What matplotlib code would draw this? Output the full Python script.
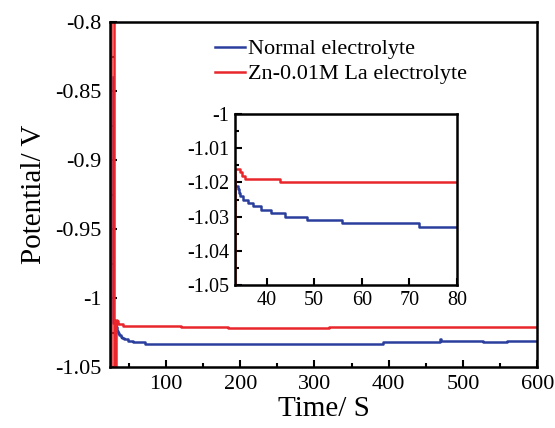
import matplotlib
matplotlib.use("Agg")
import matplotlib.pyplot as plt
from matplotlib.ticker import MultipleLocator

plt.rcParams["font.family"] = ["Liberation Serif", "DejaVu Serif"]
plt.rcParams["axes.unicode_minus"] = False

# open circuit potential vs time
t_normal = [28.5, 29.0, 33.3, 34.0, 34.2, 34.4, 35.1, 36.1, 37.2, 38.9, 41.0,
            43.8, 48.4, 55.8, 72.0, 392, 469, 471, 527, 559, 600]
v_normal = [-0.84, -1.018, -1.021, -1.022, -1.023, -1.024, -1.025, -1.026,
            -1.027, -1.028, -1.029, -1.030, -1.031, -1.032, -1.033, -1.032,
            -1.030, -1.031, -1.032, -1.031, -1.031]

t_la = [25.0, 26.0, 30.0, 33.4, 34.3, 34.8, 35.4, 42.8, 120, 183, 320, 600]
v_la = [-1.06, -0.79, -1.06, -1.016, -1.017, -1.018, -1.019, -1.020, -1.021,
        -1.022, -1.021, -1.021]

labels = ["Normal electrolyte", "Zn-0.01M La electrolyte"]
colors = ["#2a3f9d", "#e8262b"]


def style_axes(ax, size, pad):
    for sp in ax.spines.values():
        sp.set_linewidth(1.8)
    ax.tick_params(which="both", direction="in", labelsize=size, width=1.5, pad=pad)
    ax.tick_params(which="major", length=5)
    ax.tick_params(which="minor", length=3)


fig = plt.figure(figsize=(5.55, 4.28), dpi=100)
ax = fig.add_axes([0.198, 0.1425, 0.77, 0.806])
ax.plot(t_normal, v_normal, drawstyle="steps-post", color=colors[0], lw=1.8, label=labels[0])
ax.plot(t_la, v_la, drawstyle="steps-post", color=colors[1], lw=1.8, label=labels[1])
ax.set_xlim(24.5, 600)
ax.set_ylim(-1.05, -0.8)
ax.xaxis.set_major_locator(MultipleLocator(100))
ax.xaxis.set_minor_locator(MultipleLocator(50))
ax.yaxis.set_minor_locator(MultipleLocator(0.025))
ax.set_yticks([-0.8, -0.85, -0.9, -0.95, -1.0, -1.05])
ax.set_yticklabels(["-0.8", "-0.85", "-0.9", "-0.95", "-1", "-1.05"])
style_axes(ax, 16, 6)
ax.set_xlabel("Time/ S", fontsize=21, labelpad=1)
ax.set_ylabel("Potential/ V", fontsize=21, labelpad=6)
ax.legend(loc="upper left", bbox_to_anchor=(0.215, 0.99), frameon=False, fontsize=16,
          handlelength=1.35, handletextpad=0.15, labelspacing=0.2, borderaxespad=0.2)

ins = fig.add_axes([0.423, 0.334, 0.4, 0.3995])
ins.plot(t_normal, v_normal, drawstyle="steps-post", color=colors[0], lw=1.8)
ins.plot(t_la, v_la, drawstyle="steps-post", color=colors[1], lw=1.8)
ins.set_xlim(33.3, 80)
ins.set_ylim(-1.05, -1.0)
ins.xaxis.set_major_locator(MultipleLocator(10))
ins.set_yticks([-1.0, -1.01, -1.02, -1.03, -1.04, -1.05])
ins.set_yticklabels(["-1", "-1.01", "-1.02", "-1.03", "-1.04", "-1.05"])
ins.yaxis.set_minor_locator(MultipleLocator(0.005))
style_axes(ins, 14.5, 4)

fig.savefig("out.png", dpi=100)
